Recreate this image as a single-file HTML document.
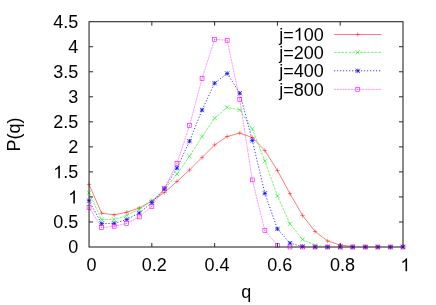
<!DOCTYPE html>
<html><head><meta charset="utf-8"><title>P(q)</title>
<style>html,body{margin:0;padding:0;background:#fff;}body{width:436px;height:305px;position:relative;overflow:hidden;font-family:"Liberation Sans",sans-serif;}</style></head>
<body>
<svg width="436" height="305" viewBox="0 0 436 305" style="position:absolute;left:0;top:0;will-change:transform;opacity:0.999">
<polyline points="89.05,184.50 101.61,213.25 114.17,214.75 126.72,212.25 139.28,208.00 151.84,200.90 164.40,192.50 176.96,181.50 189.51,170.00 202.07,157.40 214.63,144.90 227.19,136.50 239.75,133.10 252.30,137.50 264.86,150.50 277.42,170.50 289.98,193.60 302.54,215.45 315.09,231.50 327.65,241.00 340.21,245.00 352.77,246.50" fill="none" stroke="#ff0000" stroke-opacity="1" stroke-width="0.52"/>
<path d="M86.85 184.50H91.25M89.05 182.30V186.70" stroke="#ff0000" stroke-width="0.45" fill="none"/>
<path d="M99.41 213.25H103.81M101.61 211.05V215.45" stroke="#ff0000" stroke-width="0.45" fill="none"/>
<path d="M111.97 214.75H116.37M114.17 212.55V216.95" stroke="#ff0000" stroke-width="0.45" fill="none"/>
<path d="M124.52 212.25H128.92M126.72 210.05V214.45" stroke="#ff0000" stroke-width="0.45" fill="none"/>
<path d="M137.08 208.00H141.48M139.28 205.80V210.20" stroke="#ff0000" stroke-width="0.45" fill="none"/>
<path d="M149.64 200.90H154.04M151.84 198.70V203.10" stroke="#ff0000" stroke-width="0.45" fill="none"/>
<path d="M162.20 192.50H166.60M164.40 190.30V194.70" stroke="#ff0000" stroke-width="0.45" fill="none"/>
<path d="M174.76 181.50H179.16M176.96 179.30V183.70" stroke="#ff0000" stroke-width="0.45" fill="none"/>
<path d="M187.31 170.00H191.71M189.51 167.80V172.20" stroke="#ff0000" stroke-width="0.45" fill="none"/>
<path d="M199.87 157.40H204.27M202.07 155.20V159.60" stroke="#ff0000" stroke-width="0.45" fill="none"/>
<path d="M212.43 144.90H216.83M214.63 142.70V147.10" stroke="#ff0000" stroke-width="0.45" fill="none"/>
<path d="M224.99 136.50H229.39M227.19 134.30V138.70" stroke="#ff0000" stroke-width="0.45" fill="none"/>
<path d="M237.55 133.10H241.95M239.75 130.90V135.30" stroke="#ff0000" stroke-width="0.45" fill="none"/>
<path d="M250.10 137.50H254.50M252.30 135.30V139.70" stroke="#ff0000" stroke-width="0.45" fill="none"/>
<path d="M262.66 150.50H267.06M264.86 148.30V152.70" stroke="#ff0000" stroke-width="0.45" fill="none"/>
<path d="M275.22 170.50H279.62M277.42 168.30V172.70" stroke="#ff0000" stroke-width="0.45" fill="none"/>
<path d="M287.78 193.60H292.18M289.98 191.40V195.80" stroke="#ff0000" stroke-width="0.45" fill="none"/>
<path d="M300.34 215.45H304.74M302.54 213.25V217.65" stroke="#ff0000" stroke-width="0.45" fill="none"/>
<path d="M312.89 231.50H317.29M315.09 229.30V233.70" stroke="#ff0000" stroke-width="0.45" fill="none"/>
<path d="M325.45 241.00H329.85M327.65 238.80V243.20" stroke="#ff0000" stroke-width="0.45" fill="none"/>
<path d="M338.01 245.00H342.41M340.21 242.80V247.20" stroke="#ff0000" stroke-width="0.45" fill="none"/>
<path d="M350.57 246.50H354.97M352.77 244.30V248.70" stroke="#ff0000" stroke-width="0.45" fill="none"/>
<path d="M363.13 247.00H367.53M365.33 244.80V249.20" stroke="#ff0000" stroke-width="0.45" fill="none"/>
<path d="M375.68 247.00H380.08M377.88 244.80V249.20" stroke="#ff0000" stroke-width="0.45" fill="none"/>
<path d="M388.24 247.00H392.64M390.44 244.80V249.20" stroke="#ff0000" stroke-width="0.45" fill="none"/>
<path d="M400.80 247.00H405.20M403.00 244.80V249.20" stroke="#ff0000" stroke-width="0.45" fill="none"/>
<polyline points="89.05,192.75 101.61,219.60 114.17,219.40 126.72,215.35 139.28,209.25 151.84,200.90 164.40,189.75 176.96,174.00 189.51,156.25 202.07,136.60 214.63,118.10 227.19,107.40 239.75,109.90 252.30,129.00 264.86,161.00 277.42,196.00 289.98,223.80 302.54,239.40 315.09,245.50 327.65,246.80" fill="none" stroke="#00ee00" stroke-opacity="1" stroke-width="0.55" stroke-dasharray="2.6 1.1"/>
<path d="M86.85 190.55L91.25 194.95M86.85 194.95L91.25 190.55" stroke="#00ee00" stroke-width="0.55" fill="none"/>
<path d="M99.41 217.40L103.81 221.80M99.41 221.80L103.81 217.40" stroke="#00ee00" stroke-width="0.55" fill="none"/>
<path d="M111.97 217.20L116.37 221.60M111.97 221.60L116.37 217.20" stroke="#00ee00" stroke-width="0.55" fill="none"/>
<path d="M124.52 213.15L128.92 217.55M124.52 217.55L128.92 213.15" stroke="#00ee00" stroke-width="0.55" fill="none"/>
<path d="M137.08 207.05L141.48 211.45M137.08 211.45L141.48 207.05" stroke="#00ee00" stroke-width="0.55" fill="none"/>
<path d="M149.64 198.70L154.04 203.10M149.64 203.10L154.04 198.70" stroke="#00ee00" stroke-width="0.55" fill="none"/>
<path d="M162.20 187.55L166.60 191.95M162.20 191.95L166.60 187.55" stroke="#00ee00" stroke-width="0.55" fill="none"/>
<path d="M174.76 171.80L179.16 176.20M174.76 176.20L179.16 171.80" stroke="#00ee00" stroke-width="0.55" fill="none"/>
<path d="M187.31 154.05L191.71 158.45M187.31 158.45L191.71 154.05" stroke="#00ee00" stroke-width="0.55" fill="none"/>
<path d="M199.87 134.40L204.27 138.80M199.87 138.80L204.27 134.40" stroke="#00ee00" stroke-width="0.55" fill="none"/>
<path d="M212.43 115.90L216.83 120.30M212.43 120.30L216.83 115.90" stroke="#00ee00" stroke-width="0.55" fill="none"/>
<path d="M224.99 105.20L229.39 109.60M224.99 109.60L229.39 105.20" stroke="#00ee00" stroke-width="0.55" fill="none"/>
<path d="M237.55 107.70L241.95 112.10M237.55 112.10L241.95 107.70" stroke="#00ee00" stroke-width="0.55" fill="none"/>
<path d="M250.10 126.80L254.50 131.20M250.10 131.20L254.50 126.80" stroke="#00ee00" stroke-width="0.55" fill="none"/>
<path d="M262.66 158.80L267.06 163.20M262.66 163.20L267.06 158.80" stroke="#00ee00" stroke-width="0.55" fill="none"/>
<path d="M275.22 193.80L279.62 198.20M275.22 198.20L279.62 193.80" stroke="#00ee00" stroke-width="0.55" fill="none"/>
<path d="M287.78 221.60L292.18 226.00M287.78 226.00L292.18 221.60" stroke="#00ee00" stroke-width="0.55" fill="none"/>
<path d="M300.34 237.20L304.74 241.60M300.34 241.60L304.74 237.20" stroke="#00ee00" stroke-width="0.55" fill="none"/>
<path d="M312.89 243.30L317.29 247.70M312.89 247.70L317.29 243.30" stroke="#00ee00" stroke-width="0.55" fill="none"/>
<path d="M325.45 244.60L329.85 249.00M325.45 249.00L329.85 244.60" stroke="#00ee00" stroke-width="0.55" fill="none"/>
<path d="M338.01 244.80L342.41 249.20M338.01 249.20L342.41 244.80" stroke="#00ee00" stroke-width="0.55" fill="none"/>
<path d="M350.57 244.80L354.97 249.20M350.57 249.20L354.97 244.80" stroke="#00ee00" stroke-width="0.55" fill="none"/>
<path d="M363.13 244.80L367.53 249.20M363.13 249.20L367.53 244.80" stroke="#00ee00" stroke-width="0.55" fill="none"/>
<path d="M375.68 244.80L380.08 249.20M375.68 249.20L380.08 244.80" stroke="#00ee00" stroke-width="0.55" fill="none"/>
<path d="M388.24 244.80L392.64 249.20M388.24 249.20L392.64 244.80" stroke="#00ee00" stroke-width="0.55" fill="none"/>
<path d="M400.80 244.80L405.20 249.20M400.80 249.20L405.20 244.80" stroke="#00ee00" stroke-width="0.55" fill="none"/>
<polyline points="89.05,200.65 101.61,223.65 114.17,223.35 126.72,219.50 139.28,213.00 151.84,202.65 164.40,188.75 176.96,168.10 189.51,141.20 202.07,110.00 214.63,83.20 227.19,73.50 239.75,93.20 252.30,140.50 264.86,193.35 277.42,228.90 289.98,243.15 302.54,246.50" fill="none" stroke="#0000ff" stroke-opacity="0.85" stroke-width="0.9" stroke-dasharray="1.2 1.8"/>
<path d="M86.90 198.50L91.20 202.80M86.90 202.80L91.20 198.50M86.90 200.65H91.20M89.05 198.50V202.80" stroke="#0000ff" stroke-width="0.7" fill="none"/>
<path d="M99.46 221.50L103.76 225.80M99.46 225.80L103.76 221.50M99.46 223.65H103.76M101.61 221.50V225.80" stroke="#0000ff" stroke-width="0.7" fill="none"/>
<path d="M112.02 221.20L116.32 225.50M112.02 225.50L116.32 221.20M112.02 223.35H116.32M114.17 221.20V225.50" stroke="#0000ff" stroke-width="0.7" fill="none"/>
<path d="M124.57 217.35L128.87 221.65M124.57 221.65L128.87 217.35M124.57 219.50H128.87M126.72 217.35V221.65" stroke="#0000ff" stroke-width="0.7" fill="none"/>
<path d="M137.13 210.85L141.43 215.15M137.13 215.15L141.43 210.85M137.13 213.00H141.43M139.28 210.85V215.15" stroke="#0000ff" stroke-width="0.7" fill="none"/>
<path d="M149.69 200.50L153.99 204.80M149.69 204.80L153.99 200.50M149.69 202.65H153.99M151.84 200.50V204.80" stroke="#0000ff" stroke-width="0.7" fill="none"/>
<path d="M162.25 186.60L166.55 190.90M162.25 190.90L166.55 186.60M162.25 188.75H166.55M164.40 186.60V190.90" stroke="#0000ff" stroke-width="0.7" fill="none"/>
<path d="M174.81 165.95L179.11 170.25M174.81 170.25L179.11 165.95M174.81 168.10H179.11M176.96 165.95V170.25" stroke="#0000ff" stroke-width="0.7" fill="none"/>
<path d="M187.36 139.05L191.66 143.35M187.36 143.35L191.66 139.05M187.36 141.20H191.66M189.51 139.05V143.35" stroke="#0000ff" stroke-width="0.7" fill="none"/>
<path d="M199.92 107.85L204.22 112.15M199.92 112.15L204.22 107.85M199.92 110.00H204.22M202.07 107.85V112.15" stroke="#0000ff" stroke-width="0.7" fill="none"/>
<path d="M212.48 81.05L216.78 85.35M212.48 85.35L216.78 81.05M212.48 83.20H216.78M214.63 81.05V85.35" stroke="#0000ff" stroke-width="0.7" fill="none"/>
<path d="M225.04 71.35L229.34 75.65M225.04 75.65L229.34 71.35M225.04 73.50H229.34M227.19 71.35V75.65" stroke="#0000ff" stroke-width="0.7" fill="none"/>
<path d="M237.60 91.05L241.90 95.35M237.60 95.35L241.90 91.05M237.60 93.20H241.90M239.75 91.05V95.35" stroke="#0000ff" stroke-width="0.7" fill="none"/>
<path d="M250.15 138.35L254.45 142.65M250.15 142.65L254.45 138.35M250.15 140.50H254.45M252.30 138.35V142.65" stroke="#0000ff" stroke-width="0.7" fill="none"/>
<path d="M262.71 191.20L267.01 195.50M262.71 195.50L267.01 191.20M262.71 193.35H267.01M264.86 191.20V195.50" stroke="#0000ff" stroke-width="0.7" fill="none"/>
<path d="M275.27 226.75L279.57 231.05M275.27 231.05L279.57 226.75M275.27 228.90H279.57M277.42 226.75V231.05" stroke="#0000ff" stroke-width="0.7" fill="none"/>
<path d="M287.83 241.00L292.13 245.30M287.83 245.30L292.13 241.00M287.83 243.15H292.13M289.98 241.00V245.30" stroke="#0000ff" stroke-width="0.7" fill="none"/>
<path d="M300.39 244.35L304.69 248.65M300.39 248.65L304.69 244.35M300.39 246.50H304.69M302.54 244.35V248.65" stroke="#0000ff" stroke-width="0.7" fill="none"/>
<path d="M312.94 244.85L317.24 249.15M312.94 249.15L317.24 244.85M312.94 247.00H317.24M315.09 244.85V249.15" stroke="#0000ff" stroke-width="0.7" fill="none"/>
<path d="M325.50 244.85L329.80 249.15M325.50 249.15L329.80 244.85M325.50 247.00H329.80M327.65 244.85V249.15" stroke="#0000ff" stroke-width="0.7" fill="none"/>
<path d="M338.06 244.85L342.36 249.15M338.06 249.15L342.36 244.85M338.06 247.00H342.36M340.21 244.85V249.15" stroke="#0000ff" stroke-width="0.7" fill="none"/>
<path d="M350.62 244.85L354.92 249.15M350.62 249.15L354.92 244.85M350.62 247.00H354.92M352.77 244.85V249.15" stroke="#0000ff" stroke-width="0.7" fill="none"/>
<path d="M363.18 244.85L367.48 249.15M363.18 249.15L367.48 244.85M363.18 247.00H367.48M365.33 244.85V249.15" stroke="#0000ff" stroke-width="0.7" fill="none"/>
<path d="M375.73 244.85L380.03 249.15M375.73 249.15L380.03 244.85M375.73 247.00H380.03M377.88 244.85V249.15" stroke="#0000ff" stroke-width="0.7" fill="none"/>
<path d="M388.29 244.85L392.59 249.15M388.29 249.15L392.59 244.85M388.29 247.00H392.59M390.44 244.85V249.15" stroke="#0000ff" stroke-width="0.7" fill="none"/>
<path d="M400.85 244.85L405.15 249.15M400.85 249.15L405.15 244.85M400.85 247.00H405.15M403.00 244.85V249.15" stroke="#0000ff" stroke-width="0.7" fill="none"/>
<polyline points="89.05,207.50 101.61,227.60 114.17,226.25 126.72,223.35 139.28,216.90 151.84,206.40 164.40,188.75 176.96,163.40 189.51,125.60 202.07,78.40 214.63,39.30 227.19,40.30 239.75,99.40 252.30,179.90 264.86,230.50 277.42,245.25" fill="none" stroke="#ff00ff" stroke-opacity="1" stroke-width="0.4" stroke-dasharray="2.2 0.6"/>
<rect x="87.10" y="205.55" width="3.90" height="3.90" stroke="#ff00ff" stroke-width="0.6" fill="none"/><circle cx="89.05" cy="207.50" r="0.45" fill="#ff00ff"/>
<rect x="99.66" y="225.65" width="3.90" height="3.90" stroke="#ff00ff" stroke-width="0.6" fill="none"/><circle cx="101.61" cy="227.60" r="0.45" fill="#ff00ff"/>
<rect x="112.22" y="224.30" width="3.90" height="3.90" stroke="#ff00ff" stroke-width="0.6" fill="none"/><circle cx="114.17" cy="226.25" r="0.45" fill="#ff00ff"/>
<rect x="124.77" y="221.40" width="3.90" height="3.90" stroke="#ff00ff" stroke-width="0.6" fill="none"/><circle cx="126.72" cy="223.35" r="0.45" fill="#ff00ff"/>
<rect x="137.33" y="214.95" width="3.90" height="3.90" stroke="#ff00ff" stroke-width="0.6" fill="none"/><circle cx="139.28" cy="216.90" r="0.45" fill="#ff00ff"/>
<rect x="149.89" y="204.45" width="3.90" height="3.90" stroke="#ff00ff" stroke-width="0.6" fill="none"/><circle cx="151.84" cy="206.40" r="0.45" fill="#ff00ff"/>
<rect x="162.45" y="186.80" width="3.90" height="3.90" stroke="#ff00ff" stroke-width="0.6" fill="none"/><circle cx="164.40" cy="188.75" r="0.45" fill="#ff00ff"/>
<rect x="175.01" y="161.45" width="3.90" height="3.90" stroke="#ff00ff" stroke-width="0.6" fill="none"/><circle cx="176.96" cy="163.40" r="0.45" fill="#ff00ff"/>
<rect x="187.56" y="123.65" width="3.90" height="3.90" stroke="#ff00ff" stroke-width="0.6" fill="none"/><circle cx="189.51" cy="125.60" r="0.45" fill="#ff00ff"/>
<rect x="200.12" y="76.45" width="3.90" height="3.90" stroke="#ff00ff" stroke-width="0.6" fill="none"/><circle cx="202.07" cy="78.40" r="0.45" fill="#ff00ff"/>
<rect x="212.68" y="37.35" width="3.90" height="3.90" stroke="#ff00ff" stroke-width="0.6" fill="none"/><circle cx="214.63" cy="39.30" r="0.45" fill="#ff00ff"/>
<rect x="225.24" y="38.35" width="3.90" height="3.90" stroke="#ff00ff" stroke-width="0.6" fill="none"/><circle cx="227.19" cy="40.30" r="0.45" fill="#ff00ff"/>
<rect x="237.80" y="97.45" width="3.90" height="3.90" stroke="#ff00ff" stroke-width="0.6" fill="none"/><circle cx="239.75" cy="99.40" r="0.45" fill="#ff00ff"/>
<rect x="250.35" y="177.95" width="3.90" height="3.90" stroke="#ff00ff" stroke-width="0.6" fill="none"/><circle cx="252.30" cy="179.90" r="0.45" fill="#ff00ff"/>
<rect x="262.91" y="228.55" width="3.90" height="3.90" stroke="#ff00ff" stroke-width="0.6" fill="none"/><circle cx="264.86" cy="230.50" r="0.45" fill="#ff00ff"/>
<rect x="275.47" y="243.30" width="3.90" height="3.90" stroke="#ff00ff" stroke-width="0.6" fill="none"/><circle cx="277.42" cy="245.25" r="0.45" fill="#ff00ff"/>
<rect x="288.03" y="245.05" width="3.90" height="3.90" stroke="#ff00ff" stroke-width="0.6" fill="none"/><circle cx="289.98" cy="247.00" r="0.45" fill="#ff00ff"/>
<rect x="300.59" y="245.05" width="3.90" height="3.90" stroke="#ff00ff" stroke-width="0.6" fill="none"/><circle cx="302.54" cy="247.00" r="0.45" fill="#ff00ff"/>
<rect x="313.14" y="245.05" width="3.90" height="3.90" stroke="#ff00ff" stroke-width="0.6" fill="none"/><circle cx="315.09" cy="247.00" r="0.45" fill="#ff00ff"/>
<rect x="325.70" y="245.05" width="3.90" height="3.90" stroke="#ff00ff" stroke-width="0.6" fill="none"/><circle cx="327.65" cy="247.00" r="0.45" fill="#ff00ff"/>
<rect x="338.26" y="245.05" width="3.90" height="3.90" stroke="#ff00ff" stroke-width="0.6" fill="none"/><circle cx="340.21" cy="247.00" r="0.45" fill="#ff00ff"/>
<rect x="350.82" y="245.05" width="3.90" height="3.90" stroke="#ff00ff" stroke-width="0.6" fill="none"/><circle cx="352.77" cy="247.00" r="0.45" fill="#ff00ff"/>
<rect x="363.38" y="245.05" width="3.90" height="3.90" stroke="#ff00ff" stroke-width="0.6" fill="none"/><circle cx="365.33" cy="247.00" r="0.45" fill="#ff00ff"/>
<rect x="375.93" y="245.05" width="3.90" height="3.90" stroke="#ff00ff" stroke-width="0.6" fill="none"/><circle cx="377.88" cy="247.00" r="0.45" fill="#ff00ff"/>
<rect x="388.49" y="245.05" width="3.90" height="3.90" stroke="#ff00ff" stroke-width="0.6" fill="none"/><circle cx="390.44" cy="247.00" r="0.45" fill="#ff00ff"/>
<rect x="401.05" y="245.05" width="3.90" height="3.90" stroke="#ff00ff" stroke-width="0.6" fill="none"/><circle cx="403.00" cy="247.00" r="0.45" fill="#ff00ff"/>
<path d="M334.0 34.5H381.5" stroke="#ff0000" stroke-opacity="1" stroke-width="0.52" fill="none"/>
<path d="M355.55 34.50H359.95M357.75 32.30V36.70" stroke="#ff0000" stroke-width="0.45" fill="none"/>
<path d="M334.0 52.4H381.5" stroke="#00ee00" stroke-opacity="1" stroke-width="0.55" stroke-dasharray="2.6 1.1" fill="none"/>
<path d="M355.55 50.20L359.95 54.60M355.55 54.60L359.95 50.20" stroke="#00ee00" stroke-width="0.55" fill="none"/>
<path d="M334.0 70.8H381.5" stroke="#0000ff" stroke-opacity="0.85" stroke-width="0.9" stroke-dasharray="1.2 1.8" fill="none"/>
<path d="M355.60 68.65L359.90 72.95M355.60 72.95L359.90 68.65M355.60 70.80H359.90M357.75 68.65V72.95" stroke="#0000ff" stroke-width="0.7" fill="none"/>
<path d="M334.0 89.35H381.5" stroke="#ff00ff" stroke-opacity="1" stroke-width="0.4" stroke-dasharray="2.2 0.6" fill="none"/>
<rect x="355.80" y="87.40" width="3.90" height="3.90" stroke="#ff00ff" stroke-width="0.6" fill="none"/><circle cx="357.75" cy="89.35" r="0.45" fill="#ff00ff"/>
<rect x="89.05" y="21.7" width="313.95" height="225.30" fill="none" stroke="#2a2a2a" stroke-width="1.1"/>
<path d="M89.05 221.97h4.0M403.0 221.97h-4.0M89.05 196.93h4.0M403.0 196.93h-4.0M89.05 171.90h4.0M403.0 171.90h-4.0M89.05 146.87h4.0M403.0 146.87h-4.0M89.05 121.83h4.0M403.0 121.83h-4.0M89.05 96.80h4.0M403.0 96.80h-4.0M89.05 71.77h4.0M403.0 71.77h-4.0M89.05 46.73h4.0M403.0 46.73h-4.0M151.84 247.0v-4.0M151.84 21.7v4.0M214.63 247.0v-4.0M214.63 21.7v4.0M277.42 247.0v-4.0M277.42 21.7v4.0M340.21 247.0v-4.0M340.21 21.7v4.0" stroke="#2a2a2a" stroke-width="1" fill="none"/>
<text x="68.19" y="253.45" font-family="Liberation Sans, sans-serif" font-size="18" fill="#000">0</text>
<text x="53.18" y="228.42" font-family="Liberation Sans, sans-serif" font-size="18" fill="#000">0.5</text>
<path transform="translate(68.19,203.38) scale(0.008789,-0.008789)" d="M763 0H583V1147Q518 1085 412.5 1023Q307 961 223 930V1104Q374 1175 487 1276Q600 1377 647 1472H763Z" fill="#000"/>
<path transform="translate(53.18,178.35) scale(0.008789,-0.008789)" d="M763 0H583V1147Q518 1085 412.5 1023Q307 961 223 930V1104Q374 1175 487 1276Q600 1377 647 1472H763Z" fill="#000"/><text x="63.19" y="178.35" font-family="Liberation Sans, sans-serif" font-size="18" fill="#000">.5</text>
<text x="68.19" y="153.32" font-family="Liberation Sans, sans-serif" font-size="18" fill="#000">2</text>
<text x="53.18" y="128.28" font-family="Liberation Sans, sans-serif" font-size="18" fill="#000">2.5</text>
<text x="68.19" y="103.25" font-family="Liberation Sans, sans-serif" font-size="18" fill="#000">3</text>
<text x="53.18" y="78.22" font-family="Liberation Sans, sans-serif" font-size="18" fill="#000">3.5</text>
<text x="68.19" y="53.18" font-family="Liberation Sans, sans-serif" font-size="18" fill="#000">4</text>
<text x="53.18" y="28.15" font-family="Liberation Sans, sans-serif" font-size="18" fill="#000">4.5</text>
<text x="86.44" y="271.20" font-family="Liberation Sans, sans-serif" font-size="18" fill="#000">0</text>
<text x="141.73" y="271.20" font-family="Liberation Sans, sans-serif" font-size="18" fill="#000">0.2</text>
<text x="204.52" y="271.20" font-family="Liberation Sans, sans-serif" font-size="18" fill="#000">0.4</text>
<text x="267.31" y="271.20" font-family="Liberation Sans, sans-serif" font-size="18" fill="#000">0.6</text>
<text x="330.10" y="271.20" font-family="Liberation Sans, sans-serif" font-size="18" fill="#000">0.8</text>
<path transform="translate(400.39,271.20) scale(0.008789,-0.008789)" d="M763 0H583V1147Q518 1085 412.5 1023Q307 961 223 930V1104Q374 1175 487 1276Q600 1377 647 1472H763Z" fill="#000"/>
<text x="279.16" y="40.60" font-family="Liberation Sans, sans-serif" font-size="18" fill="#000">j=</text><path transform="translate(293.67,40.60) scale(0.008789,-0.008789)" d="M763 0H583V1147Q518 1085 412.5 1023Q307 961 223 930V1104Q374 1175 487 1276Q600 1377 647 1472H763Z" fill="#000"/><text x="303.68" y="40.60" font-family="Liberation Sans, sans-serif" font-size="18" fill="#000">00</text>
<text x="279.16" y="59.00" font-family="Liberation Sans, sans-serif" font-size="18" fill="#000">j=200</text>
<text x="279.16" y="77.40" font-family="Liberation Sans, sans-serif" font-size="18" fill="#000">j=400</text>
<text x="279.16" y="95.90" font-family="Liberation Sans, sans-serif" font-size="18" fill="#000">j=800</text>
<text x="246.2" y="297.6" text-anchor="middle" font-family="Liberation Sans, sans-serif" font-size="18" fill="#000">q</text>
<text transform="translate(20.2,134.4) rotate(-90)" text-anchor="middle" font-family="Liberation Sans, sans-serif" font-size="18" fill="#000">P(q)</text>
</svg>
</body></html>
